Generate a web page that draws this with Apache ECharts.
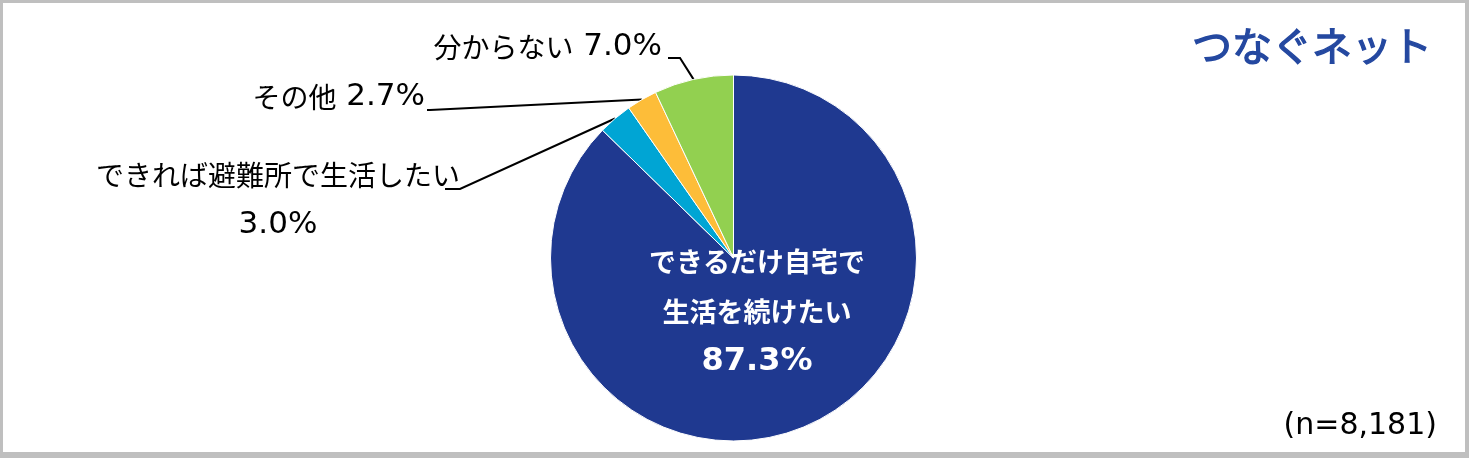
<!DOCTYPE html>
<html>
<head>
<meta charset="utf-8">
<script src="https://cdn.jsdelivr.net/npm/echarts@6/dist/echarts.min.js"></script>
<style>
html,body{margin:0;padding:0;background:#fff;}
#chart{width:1469px;height:458px;}
</style>
</head>
<body>
<div id="chart"></div>
<script>
// ---- data ----
const categories = ['できるだけ自宅で\n生活を続けたい', 'できれば避難所で生活したい', 'その他', '分からない'];
const values = [87.3, 3.0, 2.7, 7.0];
const separators = ['\n', '\n', ' ', ' '];
const colors = ['#1f3990', '#00a5d4', '#fdbd39', '#92d050'];
const logoText = 'つなぐネット';
const sampleText = '(n=8,181)';

// ---- layout (label anchors) ----
const labelAnchors = [
  {x: 757, y: 312, align: 'center'},
  {x: 278, y: 200, align: 'center', line: [[460, 189], [445, 189]]},
  {x: 425, y: 97, align: 'right', line: [[430, 110], [427, 110]]},
  {x: 662, y: 47, align: 'right', line: [[680, 58], [668, 58]]}
];

const chart = echarts.init(document.getElementById('chart'));

function fmt(i) {
  const name = categories[i].split('\n').map(s => '{c|' + s + '}').join('\n');
  return name + '{n|' + separators[i] + values[i].toFixed(1) + '%}';
}

const outerRich = {
  c: {fontFamily: 'Noto Sans CJK JP', fontSize: 28, color: '#000', lineHeight: 50},
  n: {fontFamily: 'DejaVu Sans', fontSize: 31, color: '#000', lineHeight: 50}
};
const innerRich = {
  c: {fontFamily: 'Noto Sans CJK JP', fontSize: 27, fontWeight: 'bold', color: '#fff', lineHeight: 50},
  n: {fontFamily: 'DejaVu Sans', fontSize: 32, fontWeight: 'bold', color: '#fff', lineHeight: 50}
};

const data = values.map((v, i) => {
  const item = {value: v, name: categories[i], itemStyle: {color: colors[i]}};
  if (i === 0) {
    item.label = {position: 'inside', rich: innerRich, formatter: () => fmt(0)};
    item.labelLine = {show: false};
  } else {
    item.label = {position: 'outside', rich: outerRich, formatter: () => fmt(i)};
  }
  return item;
});

chart.setOption({
  animation: false,
  backgroundColor: '#bfbfbf',
  graphic: [
    {type: 'rect', z: -10, silent: true, shape: {x: 3, y: 3, width: 1462, height: 449}, style: {fill: '#fff'}},
    {type: 'text', z: 10, x: 1432, y: 46, style: {text: logoText, fill: '#2448a0', stroke: '#2448a0', lineWidth: 1.3, fontFamily: 'Noto Sans CJK JP', fontSize: 40, align: 'right', verticalAlign: 'middle'}},
    {type: 'text', z: 10, x: 1437, y: 426, style: {text: sampleText, fill: '#000', fontFamily: 'DejaVu Sans', fontSize: 30, align: 'right', verticalAlign: 'middle'}}
  ],
  series: [{
    type: 'pie',
    center: [733.5, 258],
    radius: 183,
    startAngle: 90,
    clockwise: true,
    avoidLabelOverlap: false,
    itemStyle: {borderColor: '#fff', borderWidth: 1},
    emphasis: {disabled: true},
    labelLine: {show: true, smooth: false, lineStyle: {color: '#000', width: 2}},
    labelLayout: function (p) {
      const a = labelAnchors[p.dataIndex];
      const r = {x: a.x, y: a.y, align: a.align, verticalAlign: 'middle'};
      if (a.line && p.labelLinePoints) {
        r.labelLinePoints = [p.labelLinePoints[0]].concat(a.line);
      }
      return r;
    },
    data: data
  }]
});
</script>
</body>
</html>
